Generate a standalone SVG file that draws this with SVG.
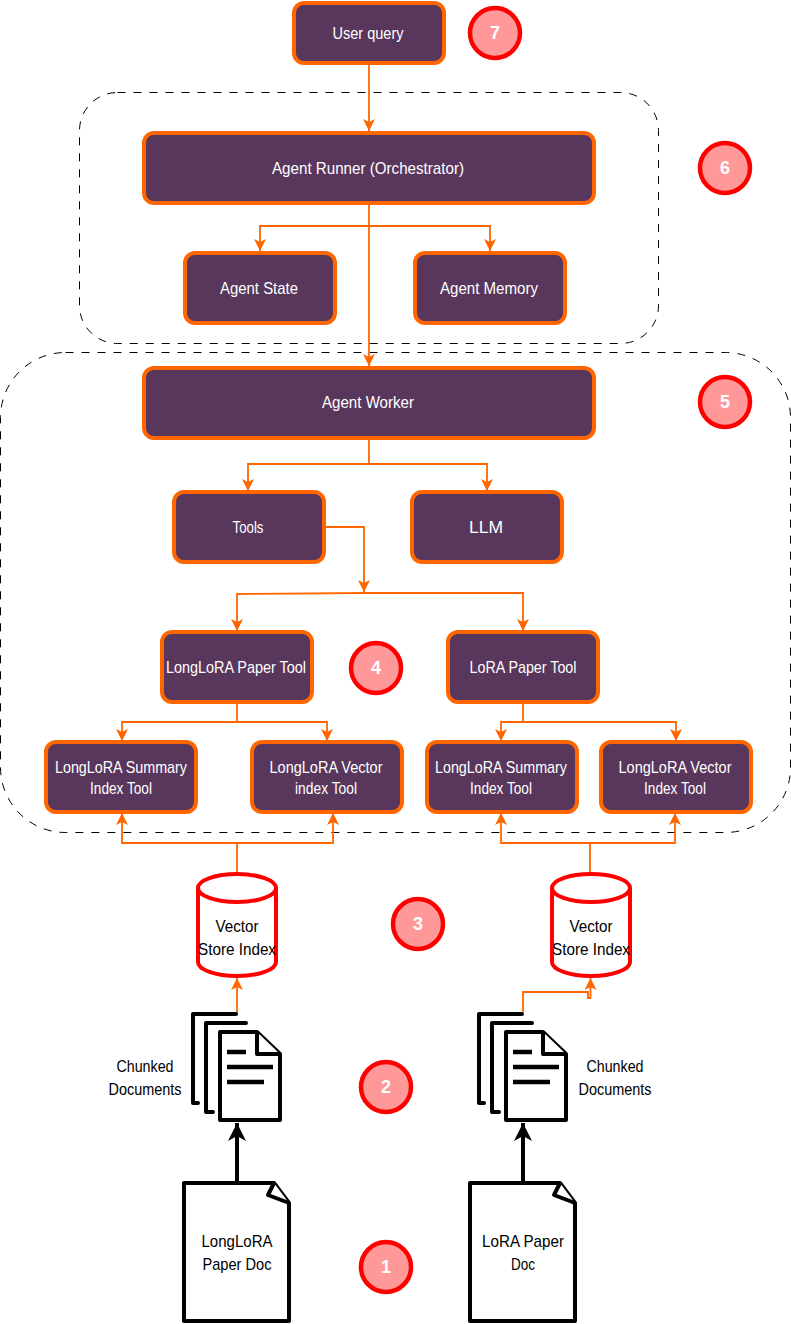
<svg xmlns="http://www.w3.org/2000/svg" width="791" height="1324" viewBox="0 0 791 1324">
<style>
text{font-family:"Liberation Sans",Arial,sans-serif;font-size:17px;text-anchor:middle;dominant-baseline:central}
.box rect{fill:#59365C;stroke:#FF6600;stroke-width:4}
.box text{fill:#fff}
.num circle{fill:#FF9999;stroke:#FF0000;stroke-width:4.5}
.num text{fill:#fff;font-weight:bold;font-size:18px}
.dash{fill:none;stroke:#000;stroke-width:1;stroke-dasharray:8 8}
.c{fill:none;stroke:#FF6600;stroke-width:1.8}
.k{fill:none;stroke:#000;stroke-width:4}
.doc path{fill:#fff;stroke:#000;stroke-width:4;stroke-linejoin:round}
.doc .bk{fill:none;stroke-linecap:round}
.doc .ln{fill:none;stroke-width:4.5}
.doc text,.cyl text,.lbl{fill:#000}
.cyl path{fill:#fff;stroke:#FF0000;stroke-width:4}
</style>
<defs>
<marker id="oa" markerUnits="userSpaceOnUse" markerWidth="14" markerHeight="14" refX="12" refY="6" orient="auto"><path d="M0 0L12 6L0 12L3 6Z" fill="#FF6600"/></marker>
<marker id="ka" markerUnits="userSpaceOnUse" markerWidth="20" markerHeight="20" refX="18" refY="9" orient="auto"><path d="M0 0L18 9L0 18L5 9Z" fill="#000"/></marker>
</defs>
<g id="regions">
<rect class="dash" x="79.5" y="92.5" width="579" height="251" rx="38"/>
<rect class="dash" x="0.5" y="352.5" width="790" height="480" rx="65"/>
</g>
<g id="connectors">
<path class="c" marker-end="url(#oa)" d="M369 63V131"/>
<path class="c" marker-end="url(#oa)" d="M369 203V366"/>
<path class="c" marker-end="url(#oa)" d="M369 226H260V251"/>
<path class="c" marker-end="url(#oa)" d="M369 226H490V251"/>
<path class="c" marker-end="url(#oa)" d="M369 438V464H248V491"/>
<path class="c" marker-end="url(#oa)" d="M369 464H487V491"/>
<path class="c" marker-end="url(#oa)" d="M324 527H364V592"/>
<path class="c" marker-end="url(#oa)" d="M364 593L237 594V631"/>
<path class="c" marker-end="url(#oa)" d="M364 593H523V631"/>
<path class="c" marker-end="url(#oa)" d="M237 702V722H122V741"/>
<path class="c" marker-end="url(#oa)" d="M237 722H327V741"/>
<path class="c" marker-end="url(#oa)" d="M523 702V722H501V741"/>
<path class="c" marker-end="url(#oa)" d="M523 722H676V741"/>
<path class="c" marker-end="url(#oa)" d="M237 873V843H122V813"/>
<path class="c" marker-end="url(#oa)" d="M237 843H333V813"/>
<path class="c" marker-end="url(#oa)" d="M590 873V843H501V813"/>
<path class="c" marker-end="url(#oa)" d="M590 843H675V813"/>
<path class="c" marker-end="url(#oa)" d="M237 1014V978"/>
<path class="c" d="M523 1012V992H588V998H591"/>
<path class="c" marker-end="url(#oa)" d="M590.5 998V978"/>
<path class="k" marker-end="url(#ka)" d="M237 1182V1123"/>
<path class="k" marker-end="url(#ka)" d="M523 1182V1123"/>
</g>
<g id="user-query" class="box"><rect x="294" y="3" width="150" height="60" rx="10"/><text x="368" y="33" textLength="71" lengthAdjust="spacingAndGlyphs">User query</text></g>
<g id="agent-runner" class="box"><rect x="144" y="133" width="450" height="70" rx="10"/><text x="368" y="168" textLength="192" lengthAdjust="spacingAndGlyphs">Agent Runner (Orchestrator)</text></g>
<g id="agent-state" class="box"><rect x="185" y="253" width="150" height="70" rx="10"/><text x="259" y="288" textLength="78" lengthAdjust="spacingAndGlyphs">Agent State</text></g>
<g id="agent-memory" class="box"><rect x="415" y="253" width="150" height="70" rx="10"/><text x="489" y="288" textLength="98" lengthAdjust="spacingAndGlyphs">Agent Memory</text></g>
<g id="agent-worker" class="box"><rect x="144" y="368" width="450" height="70" rx="10"/><text x="368" y="402" textLength="92" lengthAdjust="spacingAndGlyphs">Agent Worker</text></g>
<g id="tools" class="box"><rect x="174" y="492" width="150" height="70" rx="10"/><text x="248" y="527" textLength="31" lengthAdjust="spacingAndGlyphs">Tools</text></g>
<g id="llm" class="box"><rect x="412" y="492" width="150" height="70" rx="10"/><text x="486" y="527" textLength="34" lengthAdjust="spacingAndGlyphs">LLM</text></g>
<g id="longlora-paper-tool" class="box"><rect x="162" y="632" width="150" height="70" rx="10"/><text x="236" y="667" textLength="140" lengthAdjust="spacingAndGlyphs">LongLoRA Paper Tool</text></g>
<g id="lora-paper-tool" class="box"><rect x="448" y="632" width="150" height="70" rx="10"/><text x="523" y="667" textLength="107" lengthAdjust="spacingAndGlyphs">LoRA Paper Tool</text></g>
<g id="longlora-summary" class="box"><rect x="46" y="742" width="150" height="70" rx="10"/><text x="121" y="767" textLength="132" lengthAdjust="spacingAndGlyphs">LongLoRA Summary</text><text x="121" y="788" textLength="62" lengthAdjust="spacingAndGlyphs">Index Tool</text></g>
<g id="longlora-vector" class="box"><rect x="252" y="742" width="150" height="70" rx="10"/><text x="326" y="767" textLength="113" lengthAdjust="spacingAndGlyphs">LongLoRA Vector</text><text x="326" y="788" textLength="62" lengthAdjust="spacingAndGlyphs">index Tool</text></g>
<g id="lora-summary" class="box"><rect x="427" y="742" width="150" height="70" rx="10"/><text x="501" y="767" textLength="132" lengthAdjust="spacingAndGlyphs">LongLoRA Summary</text><text x="501" y="788" textLength="62" lengthAdjust="spacingAndGlyphs">Index Tool</text></g>
<g id="lora-vector" class="box"><rect x="601" y="742" width="150" height="70" rx="10"/><text x="675" y="767" textLength="113" lengthAdjust="spacingAndGlyphs">LongLoRA Vector</text><text x="675" y="788" textLength="62" lengthAdjust="spacingAndGlyphs">Index Tool</text></g>
<g id="store-left" class="cyl"><path d="M198 888A39 14 0 0 1 276 888V962A39 14 0 0 1 198 962ZM198 888A39 14 0 0 0 276 888"/><text x="237" y="926" textLength="43" lengthAdjust="spacingAndGlyphs">Vector</text><text x="237" y="949" textLength="78" lengthAdjust="spacingAndGlyphs">Store Index</text></g>
<g id="store-right" class="cyl"><path d="M552 888A39 14 0 0 1 630 888V962A39 14 0 0 1 552 962ZM552 888A39 14 0 0 0 630 888"/><text x="591" y="926" textLength="43" lengthAdjust="spacingAndGlyphs">Vector</text><text x="591" y="949" textLength="78" lengthAdjust="spacingAndGlyphs">Store Index</text></g>
<g id="chunks-left" class="doc">
<path class="bk" d="M236 1014H193V1103H198"/><path class="bk" d="M246 1023H206V1112H213"/>
<path d="M220 1032H257L280 1054V1120H220Z"/><path d="M257 1032V1054H280" fill="none"/>
<path class="ln" d="M227 1052H246M227 1067H273M227 1082H264"/>
</g>
<text class="lbl" x="145" y="1066" textLength="57" lengthAdjust="spacingAndGlyphs">Chunked</text><text class="lbl" x="145" y="1089" textLength="73" lengthAdjust="spacingAndGlyphs">Documents</text>
<g id="chunks-right" class="doc">
<path class="bk" d="M522 1014H479V1103H484"/><path class="bk" d="M532 1023H492V1112H499"/>
<path d="M506 1032H543L566 1054V1120H506Z"/><path d="M543 1032V1054H566" fill="none"/>
<path class="ln" d="M513 1052H532M513 1067H559M513 1082H550"/>
</g>
<text class="lbl" x="615" y="1066" textLength="57" lengthAdjust="spacingAndGlyphs">Chunked</text><text class="lbl" x="615" y="1089" textLength="73" lengthAdjust="spacingAndGlyphs">Documents</text>
<g id="longlora-doc" class="doc"><path d="M184 1183H274L289 1203V1321H184Z"/><path d="M274 1183L268 1195L289 1203"/><text x="237" y="1241" textLength="71" lengthAdjust="spacingAndGlyphs">LongLoRA</text><text x="237" y="1264" textLength="69" lengthAdjust="spacingAndGlyphs">Paper Doc</text></g>
<g id="lora-doc" class="doc"><path d="M470 1183H560L575 1203V1321H470Z"/><path d="M560 1183L554 1195L575 1203"/><text x="523" y="1241" textLength="82" lengthAdjust="spacingAndGlyphs">LoRA Paper</text><text x="523" y="1264" textLength="24" lengthAdjust="spacingAndGlyphs">Doc</text></g>
<g id="n7" class="num"><circle cx="495" cy="33" r="25"/><text x="495" y="33">7</text></g>
<g id="n6" class="num"><circle cx="725" cy="168" r="25"/><text x="725" y="168">6</text></g>
<g id="n5" class="num"><circle cx="725" cy="402" r="25"/><text x="725" y="402">5</text></g>
<g id="n4" class="num"><circle cx="376" cy="668" r="25"/><text x="376" y="668">4</text></g>
<g id="n3" class="num"><circle cx="418" cy="924" r="25"/><text x="418" y="924">3</text></g>
<g id="n2" class="num"><circle cx="386" cy="1087" r="25"/><text x="386" y="1087">2</text></g>
<g id="n1" class="num"><circle cx="386" cy="1267" r="25"/><text x="386" y="1267">1</text></g>
</svg>
